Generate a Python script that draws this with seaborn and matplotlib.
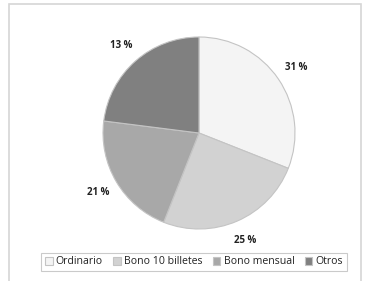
import matplotlib
matplotlib.use("Agg")
import matplotlib.pyplot as plt
import matplotlib.patches as mpatches
import seaborn as sns

# data
categories = ["Ordinario", "Bono 10 billetes", "Bono mensual", "Otros"]
shares = [31, 25, 21, 23]
pct_labels = ["31 %", "25 %", "21 %", "13 %"]
colors = ["#f4f4f4", "#d2d2d2", "#a8a8a8", "#808080"]

sns.set_style("white")
plt.rcParams["font.family"] = ["Open Sans", "DejaVu Sans"]

W, H = 374, 281
fig = plt.figure(figsize=(W / 100, H / 100), dpi=100)

# outer chart frame
fig.patches.append(mpatches.Rectangle((9 / W, -0.02), 352 / W, (H - 4) / H + 0.02,
                                      transform=fig.transFigure, fill=False,
                                      edgecolor="#d6d6d6", linewidth=1.2))

cx, cy, r = 199, 133, 96
ax = fig.add_axes([(cx - r) / W, (H - cy - r) / H, 2 * r / W, 2 * r / H])
wedges, texts = ax.pie(shares, colors=colors, startangle=90, counterclock=False,
                       labels=pct_labels, labeldistance=1.22,
                       wedgeprops=dict(edgecolor="#c4c4c4", linewidth=0.8))
for t in texts:
    t.set_fontsize(7)
    t.set_fontweight("bold")
    t.set_color("#222222")
    t.set_ha("center")
ax.set_xlim(-1, 1)
ax.set_ylim(-1, 1)
ax.set_aspect("equal")

leg = fig.legend(wedges, categories, loc="center", bbox_to_anchor=(194 / W, 1 - 262 / H),
                 ncol=4, fontsize=7.6, frameon=True, fancybox=False,
                 handlelength=0.7, handleheight=0.7, handletextpad=0.3,
                 columnspacing=1.0, borderpad=0.35, edgecolor="#bdbdbd")
leg.get_frame().set_linewidth(0.8)
for txt in leg.get_texts():
    txt.set_color("#222222")

fig.savefig("out.png", dpi=100)
